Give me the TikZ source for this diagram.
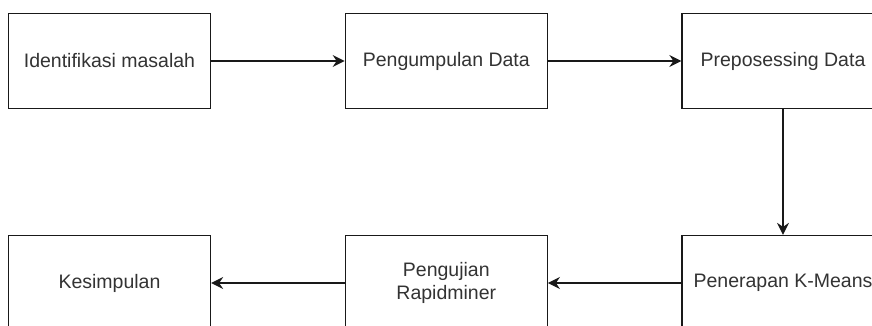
\documentclass[tikz,border=0pt]{standalone}
\usepackage{fontspec}
\setmainfont{Liberation Sans}
\usepackage{tikz}
\usetikzlibrary{arrows.meta, positioning}
\usepackage{xcolor}

\begin{document}
\begin{tikzpicture}[x=1pt, y=-1pt,
    stepbox/.style={draw=black!90, line width=1.3pt, fill=white, minimum width=202pt, minimum height=95pt, inner sep=0pt, align=center, text=black!80, font=\fontsize{19.5}{23.5}\selectfont},
    flow/.style={-{Stealth[length=12pt, width=12pt, inset=4pt]}, line width=1.3pt, draw=black!90}]
  \useasboundingbox (0,0) rectangle (872,326);
  \clip (0,0) rectangle (872,326);
  % top row
  \node[stepbox] (identifikasi) at (109.5,61) {Identifikasi masalah};
  \node[stepbox] (pengumpulan) at (446.3,61) {Pengumpulan Data};
  \node[stepbox] (preposessing) at (783,61) {Preposessing Data};
  % bottom row
  \node[stepbox] (kesimpulan) at (109.5,283) {Kesimpulan};
  \node[stepbox] (pengujian) at (446.3,283) {Pengujian\\Rapidminer};
  \node[stepbox] (kmeans) at (783,283) {Penerapan K-Means};
  \draw[flow] (identifikasi) -- (pengumpulan);
  \draw[flow] (pengumpulan) -- (preposessing);
  \draw[flow] (preposessing) -- (kmeans);
  \draw[flow] (kmeans) -- (pengujian);
  \draw[flow] (pengujian) -- (kesimpulan);
\end{tikzpicture}
\end{document}
